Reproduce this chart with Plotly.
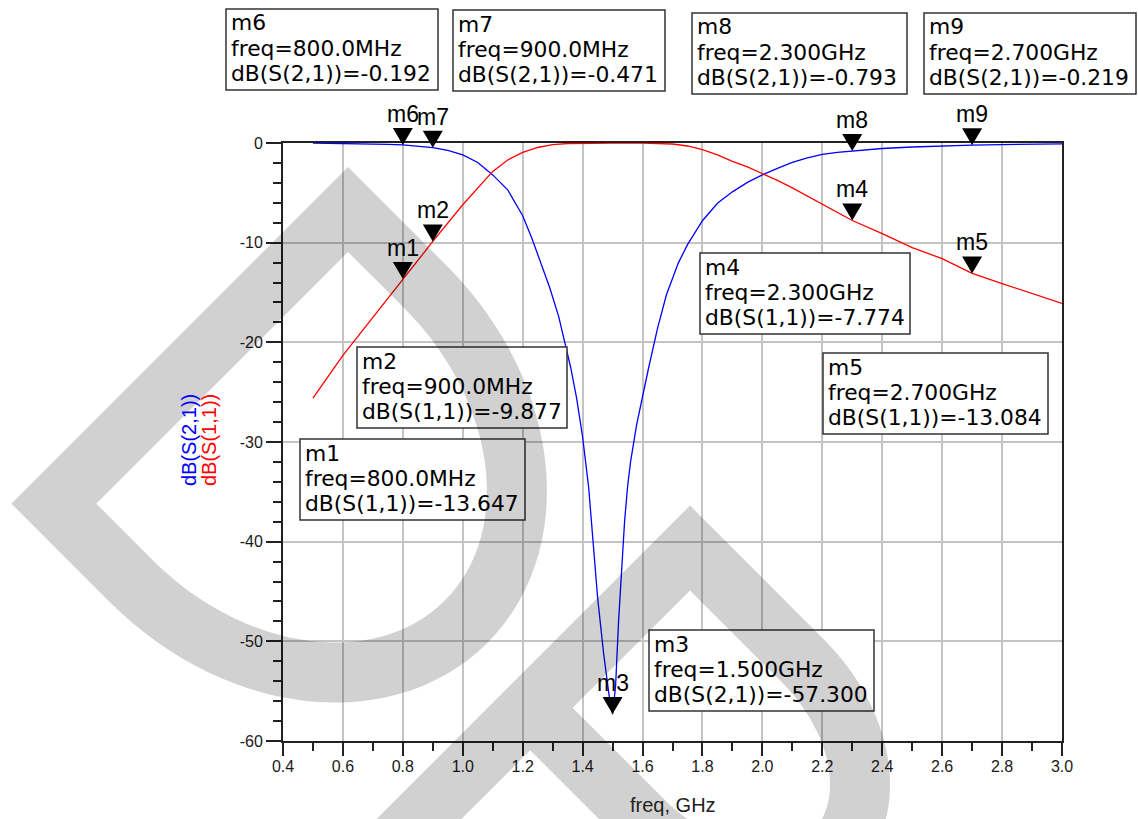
import math
import plotly.graph_objects as go

# ---------------------------------------------------------------- data
freq_s21 = [0.5, 0.6, 0.7, 0.75, 0.8, 0.85, 0.9, 0.95, 1.0, 1.05, 1.1, 1.15, 1.2,
            1.23, 1.26, 1.29, 1.32, 1.34, 1.36, 1.38, 1.4, 1.42, 1.43, 1.45, 1.47,
            1.49, 1.5, 1.51, 1.52, 1.53, 1.54, 1.55, 1.56, 1.58, 1.6, 1.62, 1.65,
            1.68, 1.7, 1.72, 1.75, 1.78, 1.8, 1.85, 1.9, 1.95, 2.0, 2.05, 2.1,
            2.15, 2.2, 2.25, 2.3, 2.4, 2.5, 2.6, 2.7, 2.8, 2.9, 3.0]
db_s21 = [-0.01, -0.03, -0.08, -0.13, -0.192, -0.30, -0.471, -0.75, -1.2, -1.95,
          -3.2, -4.7, -7.3, -9.5, -12.0, -14.5, -17.4, -19.8, -22.5, -25.6,
          -29.5, -34.5, -38.2, -45.6, -51.2, -55.8, -57.3, -54.5, -48.0, -42.5,
          -38.0, -34.5, -32.0, -28.3, -25.4, -22.6, -18.6, -15.2, -13.6, -12.0,
          -10.2, -8.7, -7.8, -6.05, -4.9, -3.95, -3.2, -2.55, -1.95, -1.5, -1.15,
          -0.95, -0.793, -0.55, -0.40, -0.29, -0.219, -0.16, -0.12, -0.09]

freq_s11 = [0.5, 0.6, 0.7, 0.8, 0.9, 1.0, 1.05, 1.1, 1.15, 1.2, 1.25, 1.3, 1.35,
            1.4, 1.5, 1.6, 1.65, 1.7, 1.75, 1.8, 1.85, 1.9, 1.95, 2.0, 2.05, 2.1,
            2.2, 2.3, 2.4, 2.5, 2.6, 2.7, 2.8, 2.9, 3.0]
db_s11 = [-25.6, -21.3, -17.5, -13.647, -9.877, -6.2, -4.5, -2.85, -1.7, -0.95,
          -0.45, -0.17, -0.05, -0.01, 0.0, -0.01, -0.04, -0.1, -0.3, -0.67,
          -1.2, -1.85, -2.4, -3.05, -3.75, -4.5, -6.15, -7.774, -9.1, -10.5,
          -11.6, -13.084, -14.1, -15.1, -16.1]

marker_names = ["m1", "m2", "m3", "m4", "m5", "m6", "m7", "m8", "m9"]
marker_freq = [0.8, 0.9, 1.5, 2.3, 2.7, 0.8, 0.9, 2.3, 2.7]
marker_db = [-13.647, -9.877, -57.300, -7.774, -13.084, -0.192, -0.471, -0.793, -0.219]
marker_param = ["S(1,1)", "S(1,1)", "S(2,1)", "S(1,1)", "S(1,1)",
                "S(2,1)", "S(2,1)", "S(2,1)", "S(2,1)"]

# readout boxes, page pixels
readout_left = [300, 357, 649, 700, 823, 226, 453, 692, 924]
readout_top = [439, 347, 630, 253, 353, 9, 10, 13, 13]
readout_width = [225, 210, 225, 210, 225, 212, 212, 215, 212]
READOUT_HEIGHT = 81

x_range = [0.4, 3.0]
y_range = [-60, 0]
y_tick_vals = [0, -10, -20, -30, -40, -50, -60]
y_tick_text = ["0", "-10", "-20", "-30", "-40", "-50", "-60"]

# ---------------------------------------------------------------- page geometry
PAGE_W, PAGE_H = 1138, 819
M_L, M_R, M_T, M_B = 283, 76, 143, 78
PLOT_W = PAGE_W - M_L - M_R
PLOT_H = PAGE_H - M_T - M_B

FONT = "Liberation Sans, Arial, sans-serif"
READOUT_FONT = "DejaVu Sans, Verdana, sans-serif"
INK = "#222222"


def px_x(px):
    return (px - M_L) / PLOT_W


def px_y(py):
    return (M_T + PLOT_H - py) / PLOT_H


def data_xfrac(f):
    return (f - x_range[0]) / (x_range[1] - x_range[0])


def data_yfrac(v):
    return (v - y_range[0]) / (y_range[1] - y_range[0])


def freq_text(f):
    return f"{f * 1000:.1f}MHz" if f < 1 else f"{f:.3f}GHz"


fig = go.Figure()

fig.add_trace(go.Scatter(x=freq_s21, y=db_s21, mode="lines", name="dB(S(2,1))",
                         line=dict(color="#0000ff", width=1.3), showlegend=False))
fig.add_trace(go.Scatter(x=freq_s11, y=db_s11, mode="lines", name="dB(S(1,1))",
                         line=dict(color="#ff0000", width=1.3), showlegend=False))

shapes = []
annotations = []

# readout boxes
for i, name in enumerate(marker_names):
    left, top, width = readout_left[i], readout_top[i], readout_width[i]
    shapes.append(dict(type="rect", xref="paper", yref="paper",
                       x0=px_x(left), x1=px_x(left + width),
                       y0=px_y(top), y1=px_y(top + READOUT_HEIGHT),
                       fillcolor="white", line=dict(color="#333333", width=1.5),
                       layer="above"))
    lines = [name, "freq=" + freq_text(marker_freq[i]),
             f"dB({marker_param[i]})={marker_db[i]:.3f}"]
    for k, txt in enumerate(lines):
        annotations.append(dict(text=txt, xref="paper", yref="paper",
                                x=px_x(left + 3), y=px_y(top + 14 + 25.3 * k),
                                xanchor="left", yanchor="middle", showarrow=False,
                                font=dict(family=READOUT_FONT, size=21.8, color="black")))

# marker triangles and labels
for i, name in enumerate(marker_names):
    shapes.append(dict(type="path", xref="paper", yref="paper",
                       xsizemode="pixel", ysizemode="pixel",
                       xanchor=data_xfrac(marker_freq[i]),
                       yanchor=data_yfrac(marker_db[i]),
                       path="M-10,17 L10,17 L0,0 Z",
                       fillcolor="black", line=dict(width=0), layer="above"))
    annotations.append(dict(text=name, x=marker_freq[i], y=marker_db[i],
                            xref="x", yref="y", yshift=31, showarrow=False,
                            xanchor="center", yanchor="middle",
                            font=dict(family=FONT, size=23, color="black")))

# background logo strokes
R2 = 1 / math.sqrt(2)
U = (R2, R2)
V = (R2, -R2)


def pt(base, *terms):
    x, y = base
    for k, vec in terms:
        x += k * vec[0]
        y += k * vec[1]
    return (x, y)


def bowl(apex, spine, s, a, reverse=False):
    b = spine / 2
    c = pt(apex, (-b, V), (s, U))
    thetas = [math.radians(-90 + 180 * j / 60) for j in range(61)]
    if reverse:
        thetas = thetas[::-1]
    return [pt(c, (a * math.cos(t), U), (b * math.sin(t), V)) for t in thetas]


def to_path(points, close):
    segs = [f"{px_x(x):.5f},{px_y(y):.5f}" for x, y in points]
    return "M" + " L".join(segs) + (" Z" if close else "")


d_apex, d_spine = (348, 209.5), 416
d_pts = [d_apex, pt(d_apex, (-d_spine, V))] + bowl(d_apex, d_spine, 110, 265)
p_apex, p_spine = (690, 548), 226
p_lower = pt(p_apex, (-p_spine, V))
p_pts = ([pt(p_apex, (-480, V)), p_apex]
         + bowl(p_apex, p_spine, 160, 157, reverse=True) + [p_lower])

for pts, closed in [(d_pts, True), (p_pts, False)]:
    shapes.append(dict(type="path", xref="paper", yref="paper",
                       path=to_path(pts, closed), line=dict(color="black", width=60),
                       opacity=0.175, layer="above"))

# axis titles
annotations.append(dict(text="freq, GHz", xref="paper", yref="paper",
                        x=0.5, y=px_y(805), xanchor="center", yanchor="middle",
                        showarrow=False, font=dict(family=FONT, size=20, color=INK)))
for txt, col, xp in [("dB(S(2,1))", "#0000ff", 189), ("dB(S(1,1))", "#ff0000", 209)]:
    annotations.append(dict(text=txt, xref="paper", yref="paper",
                            x=px_x(xp), y=px_y(440), textangle=-90,
                            xanchor="center", yanchor="middle", showarrow=False,
                            font=dict(family=FONT, size=20, color=col)))

axis_common = dict(showline=True, linecolor=INK, linewidth=2, mirror=True,
                   ticks="outside", tickwidth=2, tickcolor=INK,
                   showgrid=True, gridcolor="#c4c4c4", gridwidth=1.5,
                   zeroline=False, layer="below traces",
                   tickfont=dict(family=FONT, size=16, color="#1a1a1a"))

fig.update_layout(
    width=PAGE_W, height=PAGE_H,
    margin=dict(l=M_L, r=M_R, t=M_T, b=M_B),
    paper_bgcolor="white", plot_bgcolor="white",
    showlegend=False,
    xaxis=dict(range=x_range, tick0=0.4, dtick=0.2, tickformat=".1f", ticklen=13,
               ticklabelstandoff=-3,
               minor=dict(tick0=0.4, dtick=0.1, ticks="outside", ticklen=8,
                          tickwidth=1.5, tickcolor=INK, showgrid=False),
               **axis_common),
    yaxis=dict(range=y_range, tickmode="array", tickvals=y_tick_vals,
               ticktext=y_tick_text, ticklen=15,
               minor=dict(tickmode="linear", tick0=0, dtick=2, ticks="outside",
                          ticklen=8, tickwidth=1.5, tickcolor=INK, showgrid=False),
               **axis_common),
    shapes=shapes,
    annotations=annotations,
)

fig.write_html("out.html")
